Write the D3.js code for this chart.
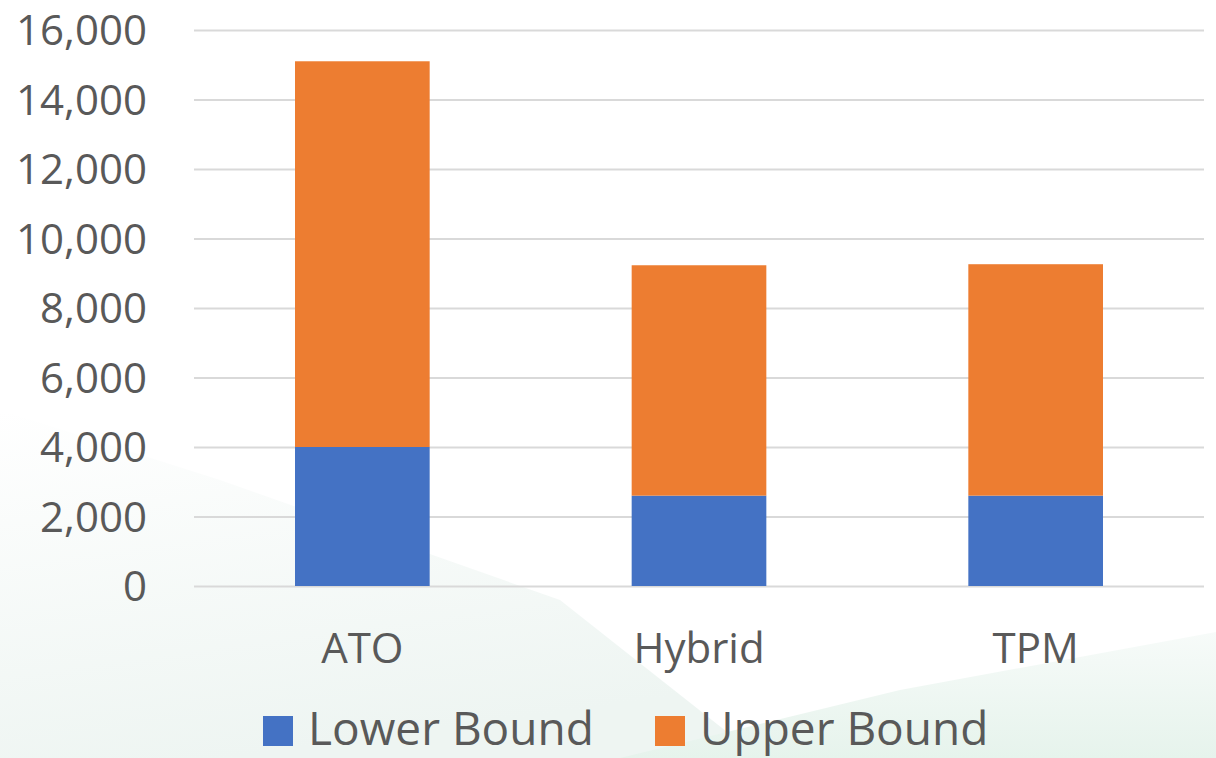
<!DOCTYPE html>
<html>
<head>
<meta charset="utf-8">
<script src="https://cdn.jsdelivr.net/npm/d3@7"></script>
<style>
  html, body { margin: 0; padding: 0; background: #fff; }
  svg { display: block; font-family: "Open Sans", sans-serif; }
</style>
</head>
<body>
<svg id="chart"></svg>
<script>
// data
const categories = ["ATO", "Hybrid", "TPM"];
const lowerBound = [4000, 2600, 2600];
const upperBound = [11100, 6630, 6660];
const seriesNames = ["Lower Bound", "Upper Bound"];
const seriesColors = ["#4472C4", "#ED7D31"];
const yTicks = [0, 2000, 4000, 6000, 8000, 10000, 12000, 14000, 16000];

const W = 1216, H = 758;
const margin = { top: 30, right: 12, bottom: 172, left: 194 };
const width = W - margin.left - margin.right,
      height = H - margin.top - margin.bottom;

const svg = d3.select("#chart").attr("width", W).attr("height", H);

// faint background shapes
const defs = svg.append("defs");
const g1 = defs.append("linearGradient").attr("id", "bgL")
  .attr("x1", 0).attr("y1", 0).attr("x2", 0.3).attr("y2", 1);
g1.append("stop").attr("offset", "0%").attr("stop-color", "#ffffff");
g1.append("stop").attr("offset", "100%").attr("stop-color", "#eef5f2");
const g2 = defs.append("linearGradient").attr("id", "bgR")
  .attr("x1", 0).attr("y1", 0).attr("x2", 0).attr("y2", 1);
g2.append("stop").attr("offset", "0%").attr("stop-color", "#f7fbf9");
g2.append("stop").attr("offset", "100%").attr("stop-color", "#e6f3ec");

svg.append("path")
  .attr("d", "M0,410 L220,480 L560,600 L760,758 L0,758 Z")
  .attr("fill", "url(#bgL)");
svg.append("path")
  .attr("d", "M620,758 L900,690 L1216,632 L1216,758 Z")
  .attr("fill", "url(#bgR)");

const g = svg.append("g")
  .attr("transform", `translate(${margin.left}, ${margin.top})`);

const x = d3.scaleBand().domain(categories).range([0, width])
  .paddingInner(0.6).paddingOuter(0.3);
const y = d3.scaleLinear().domain([0, 16000]).range([height, 0]);

// grid
const yGrid = d3.axisLeft(y).tickValues(yTicks).tickSize(-width).tickFormat("");
g.append("g").call(yGrid)
  .call(s => s.select(".domain").remove())
  .call(s => s.selectAll("line").attr("stroke", "#d9d9d9").attr("stroke-width", 2));

// y axis labels
const yAxis = d3.axisLeft(y).tickValues(yTicks).tickSize(0).tickPadding(47)
  .tickFormat(d3.format(","));
g.append("g").call(yAxis)
  .call(s => s.select(".domain").remove())
  .call(s => s.selectAll("text")
    .attr("fill", "#595959").attr("font-size", 42)
    .attr("font-family", "Open Sans, sans-serif")
    .attr("dy", "0.35em"));

// stacked bars
const rows = categories.map((c, i) => ({ cat: c, lower: lowerBound[i], upper: upperBound[i] }));
const stack = d3.stack().keys(["lower", "upper"])(rows);

g.selectAll("g.series")
  .data(stack)
  .enter().append("g")
  .attr("class", "series")
  .attr("fill", (d, i) => seriesColors[i])
  .selectAll("rect")
  .data(d => d)
  .enter().append("rect")
  .attr("x", d => x(d.data.cat))
  .attr("width", x.bandwidth())
  .attr("y", d => y(d[1]))
  .attr("height", d => y(d[0]) - y(d[1]));

// x axis labels
const xAxis = d3.axisBottom(x).tickSize(0).tickPadding(47);
g.append("g").attr("transform", `translate(0, ${height})`).call(xAxis)
  .call(s => s.select(".domain").remove())
  .call(s => s.selectAll("text")
    .attr("fill", "#595959").attr("font-size", 42)
    .attr("font-family", "Open Sans, sans-serif"));

// legend
const legendX = [263, 655];
const legend = svg.append("g").attr("transform", "translate(0, 716)");
seriesNames.forEach((name, i) => {
  legend.append("rect")
    .attr("x", legendX[i]).attr("y", 0)
    .attr("width", 30).attr("height", 30)
    .attr("fill", seriesColors[i]);
  legend.append("text")
    .attr("x", legendX[i] + 45).attr("y", 29)
    .attr("fill", "#595959").attr("font-size", 46)
    .text(name);
});
</script>
</body>
</html>
